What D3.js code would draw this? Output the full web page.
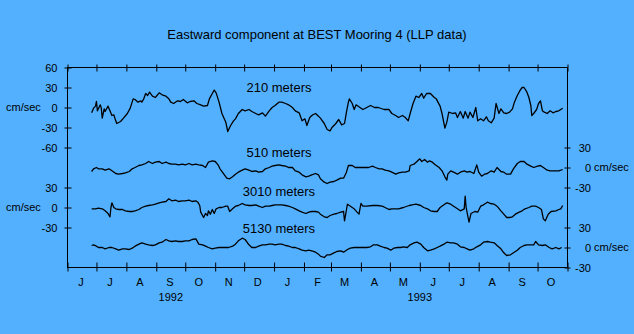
<!DOCTYPE html>
<html><head><meta charset="utf-8">
<script src="https://cdn.jsdelivr.net/npm/d3@7"></script>
<style>
html,body{margin:0;padding:0;background:#52b0ff;}
svg{display:block;font-family:"Liberation Sans",Arial,sans-serif;}
</style></head><body>
<svg id="c" width="634" height="334"></svg>
<script>
// ---------------- data ----------------
const titleText = "Eastward component at BEST Mooring 4 (LLP data)";
const startDate = "1992-06-01";
const endDate = "1993-11-01";
const monthLabels = ["J","J","A","S","O","N","D","J","F","M","A","M","J","J","A","S","O"];
const yearLabels = ["1992","1993"];
const yearDates = ["1992-09-16","1993-06-01"];
const seriesNames = ["210 meters","510 meters","3010 meters","5130 meters"];
const unitLabel = "cm/sec";
const ticks210 = [60,30,0,-30,-60];
const ticks510 = [30,0,-30];
const ticks3010 = [30,0,-30];
const ticks5130 = [30,0,-30];

// days since 1992-06-01, eastward velocity (cm/s)
const days210 = [
25,27,29,30,31,34,35,36,38,39,
42,44,46,48,50,51,55,58,62,65,
68,70,73,76,77,79,81,83,85,88,
91,95,98,102,105,107,110,114,117,120,
124,127,131,134,138,141,145,147,150,152,
154,157,160,164,166,169,172,174,177,181,
184,188,191,195,198,202,205,209,212,215,
219,222,226,229,233,236,240,243,246,248,
251,254,257,260,262,266,269,272,274,278,
281,284,287,289,291,292,295,297,299,303,
306,310,314,318,322,328,333,336,340,343,
347,350,353,355,358,361,364,367,369,372,
376,380,382,386,388,391,393,395,399,402,
404,407,410,412,415,417,420,423,425,428,
431,434,436,439,442,444,447,449,452,455,
458,461,463,466,469,471,473,476,478,480,
481,483,486,488,490,492,494,497,500,503,
506,509,513];
const vals210 = [
-8,-1,2,9,-5,4,-1,-16,-2,-6,
2,-5,-12,-11,-20,-24,-21,-16,-9,-1,
13,12,8,10,8,13,21,18,23,17,
15,22,19,17,13,8,6,10,9,12,
7,9,10,6,4,2,3,13,21,26,
22,8,-9,-22,-36,-27,-20,-17,-9,-3,
-5,-3,-6,-9,-11,-8,-13,-5,0,3,
8,8,6,4,0,-5,-8,-20,-17,-27,
-15,-11,-9,-13,-16,-24,-33,-35,-30,-24,
-18,-26,-24,-7,8,13,6,-3,4,0,
-3,0,3,0,0,-3,-3,-9,-12,-15,
-12,-15,-20,-9,6,17,15,21,14,21,
21,15,13,2,-9,-31,-22,-7,-9,-8,
-15,-6,-16,-6,-16,-7,-15,0,-20,-17,
-20,-14,-20,-23,-16,6,-9,-2,-8,-9,
-7,-2,8,18,26,30,30,23,15,3,
-12,-9,-3,6,10,-5,-7,-9,-5,-8,
-6,-5,-1];

const days510 = [
25,27,30,32,36,39,43,46,50,53,
57,60,64,67,70,74,77,81,84,88,
91,95,98,102,105,108,112,115,119,122,
126,129,133,136,140,143,146,150,153,156,
158,162,165,168,171,174,177,181,184,188,
191,195,198,202,205,209,212,215,219,222,
226,229,233,236,240,243,247,250,253,257,
260,
262,266,269,272,276,279,283,286,289,291,
295,298,302,305,309,312,316,319,323,326,
329,333,336,340,343,347,350,354,355,359,
362,365,367,370,373,375,378,381,385,388,
391,393,394,397,400,404,407,411,414,417,
421,424,426,429,432,435,439,442,445,449,
452,455,459,462,466,469,473,476,480,483,
487,490,493,497,500,506,509,513];
const vals510 = [
-6,-2,0,-2,-2,-4,-2,-5,-9,-10,
-9,-8,-6,-2,0,3,4,6,9,6,
8,9,6,8,6,5,5,4,5,4,
6,4,5,4,3,0,8,10,9,4,
-2,-10,-16,-17,-14,-10,-7,-4,-2,-4,
-6,-5,-7,-6,-2,0,2,3,4,3,
2,0,0,-5,-7,-11,-14,-13,-11,-9,
-11,
-17,-22,-24,-22,-21,-19,-16,-16,-7,3,
3,0,0,0,0,0,2,0,-2,-2,
-4,-5,-7,-10,-8,-7,-7,-5,3,5,
9,13,9,12,8,10,8,4,0,-5,
-14,-19,-10,-5,-7,-10,-7,-5,-7,-6,
-9,4,-7,-13,-10,-9,-5,-7,0,-6,
-7,-10,-10,-2,6,9,9,5,2,0,
2,3,0,-4,-5,-5,-5,-3];

const days3010 = [
25,29,32,36,39,42,44,45,46,48,
50,53,57,60,64,67,70,74,77,81,
84,88,91,95,98,102,105,108,112,115,
119,122,126,129,133,135,137,138,141,143,
145,146,148,150,152,154,157,160,164,166,
168,171,174,177,181,184,188,191,195,198,
202,205,209,212,215,219,222,226,229,233,
236,240,243,247,250,253,257,260,
262,266,269,272,276,279,283,286,287,288,
290,292,295,297,300,302,304,306,310,316,
321,326,329,333,336,340,343,348,354,357,
361,366,369,373,376,380,383,386,390,393,
397,400,404,407,411,412,413,415,416,418,
422,425,428,431,435,438,442,445,449,452,
455,458,461,464,468,471,474,478,481,485,
488,491,493,495,498,501,506,509,511,513];
const vals3010 = [
-2,-2,-1,-2,-5,-9,-14,0,7,0,
-2,-3,-3,-5,-6,-6,-5,-3,0,2,
3,4,5,7,8,9,13,10,11,9,
10,10,11,9,10,8,3,-7,-15,-9,
-12,-5,-10,-3,-9,-2,0,0,2,2,
-6,-2,2,3,6,4,3,3,4,2,
0,2,2,3,4,4,4,3,2,0,
-2,-5,-7,-9,-7,-6,-6,-7,
-10,-14,-15,-12,-10,-9,-7,-6,-20,-12,
5,3,0,-2,-7,-10,6,2,2,3,
3,2,0,-3,-2,-2,-2,0,3,4,
5,3,0,-2,-5,-6,-6,0,4,7,
5,2,-2,-5,-2,17,0,-15,-22,-9,
-6,-7,2,4,8,6,5,2,-5,-10,
-15,-15,-14,-10,-7,-5,-2,0,2,2,
0,-3,-17,-20,-10,-6,-5,-3,-2,3];

const days5130 = [
25,27,30,32,36,39,43,46,50,53,
57,60,64,67,70,74,77,81,84,88,
91,95,98,102,105,108,112,115,119,122,
126,129,133,136,140,143,146,150,153,157,
160,164,167,171,174,177,181,184,188,191,
195,198,202,205,209,212,215,219,222,226,
229,233,236,240,243,247,250,253,257,260,
262,266,269,272,276,279,283,286,
290,293,297,300,304,307,310,314,317,321,
324,328,331,335,338,342,345,348,352,355,
359,362,366,369,373,376,380,383,386,390,
393,397,400,404,407,411,414,417,421,424,
428,431,435,438,442,445,449,452,455,459,
462,466,469,473,476,480,483,485,488,492,
495,499,502,506,509,512];
const vals5130 = [
3,4,2,0,0,-2,0,0,-2,-4,
-2,-2,-3,-1,2,5,7,5,4,3,
4,7,8,12,10,9,10,9,9,10,
10,12,13,5,4,2,0,-2,-1,0,
0,0,0,2,5,10,14,12,4,0,
0,2,4,4,5,5,4,5,5,3,
2,0,0,-2,-4,-5,-4,-5,-7,-10,
-13,-15,-11,-11,-8,-6,-5,-7,
-3,-1,0,0,0,0,0,1,4,4,
2,0,-1,-4,-1,0,0,1,0,4,
7,8,5,0,-5,-4,-2,0,2,5,
8,7,7,5,1,0,-2,-4,-2,1,
4,8,9,8,7,3,-2,-8,-12,-11,
-8,-4,0,3,4,4,4,9,4,3,
4,0,-2,0,-2,0];

// ---------------- layout ----------------
const W = 634, H = 334;
const L = 67.5, R = 567.5, T = 67.5, B = 267.5;
const offsets = [0, -90, -150, -210];
const labelY = [92, 157, 196, 233];
const labelX = 279;

const svg = d3.select("#c");
const parse = d3.utcParse("%Y-%m-%d");
const t0 = parse(startDate), t1 = parse(endDate);
const x = d3.scaleUtc().domain([t0, t1]).range([L, R]);
const baseDomain = [-240, 60];
function yFor(i) {
  return d3.scaleLinear().domain(baseDomain.map(d => d - offsets[i])).range([B, T]);
}
const yScales = [0,1,2,3].map(yFor);

// title
svg.append("text").attr("x", 317).attr("y", 38.5).attr("text-anchor", "middle")
  .attr("font-size", 13).attr("fill", "#000").text(titleText);

// frame
svg.append("rect").attr("x", L).attr("y", T).attr("width", R - L).attr("height", B - T)
  .attr("fill", "none").attr("stroke", "#000").attr("stroke-width", 1);

// x axes (ticks at each month boundary, crossing the frame)
const months = d3.utcMonth.range(t0, d3.utcDay.offset(t1, 1));
const gB = svg.append("g").attr("transform", `translate(0,${B})`)
  .call(d3.axisBottom(x).tickValues(months).tickSize(4).tickSizeOuter(0).tickFormat(""));
gB.select(".domain").remove();
gB.selectAll(".tick line").attr("y1", -5).attr("y2", 4).attr("stroke", "#000");
const gT = svg.append("g").attr("transform", `translate(0,${T})`)
  .call(d3.axisTop(x).tickValues(months).tickSize(3).tickSizeOuter(0).tickFormat(""));
gT.select(".domain").remove();
gT.selectAll(".tick line").attr("y1", 4).attr("y2", -3).attr("stroke", "#000");

// month labels at mid-month
const labelMonths = d3.utcMonth.range(t0, t1);
svg.append("g").selectAll("text").data(labelMonths).join("text")
  .attr("x", d => x(d3.utcDay.offset(d, 14)))
  .attr("y", 286).attr("text-anchor", "middle").attr("font-size", 11)
  .text((d, i) => monthLabels[i]);
svg.append("g").selectAll("text").data(yearLabels).join("text")
  .attr("x", (d, i) => x(parse(yearDates[i])))
  .attr("y", 300.5).attr("text-anchor", "middle").attr("font-size", 11)
  .text(d => d);

// y axes
function leftAxis(scale, vals) {
  const g = svg.append("g").attr("transform", `translate(${L},0)`)
    .call(d3.axisLeft(scale).tickValues(vals).tickSize(3).tickPadding(7).tickFormat(d => String(d)));
  g.select(".domain").remove();
  g.selectAll(".tick line").attr("x1", 4).attr("x2", -3).attr("stroke", "#000");
  g.selectAll(".tick text").attr("font-size", 11).attr("font-family", "Liberation Sans, Arial, sans-serif").attr("fill", "#000");
  svg.append("text").attr("x", 6).attr("y", scale(0)).attr("dy", "0.32em")
    .attr("font-size", 11).text(unitLabel);
}
function rightAxis(scale, vals) {
  const g = svg.append("g").attr("transform", `translate(${R},0)`)
    .call(d3.axisRight(scale).tickValues(vals).tickSize(3).tickFormat(d => String(d)));
  g.select(".domain").remove();
  g.selectAll(".tick line").attr("x1", -3).attr("x2", 3).attr("stroke", "#000");
  g.selectAll(".tick text").attr("font-size", 11).attr("font-family", "Liberation Sans, Arial, sans-serif")
    .attr("fill", "#000").attr("text-anchor", "end").attr("x", 23.5);
  svg.append("text").attr("x", 594).attr("y", scale(0)).attr("dy", "0.32em")
    .attr("font-size", 11).text(unitLabel);
}
leftAxis(yScales[0], ticks210);
leftAxis(yScales[2], ticks3010);
rightAxis(yScales[1], ticks510);
rightAxis(yScales[3], ticks5130);

// series
const seriesDays = [days210, days510, days3010, days5130];
const seriesVals = [vals210, vals510, vals3010, vals5130];
seriesDays.forEach((days, i) => {
  const pts = days.map((d, j) => [d3.utcDay.offset(t0, d), seriesVals[i][j]]);
  const line = d3.line().x(p => x(p[0])).y(p => yScales[i](p[1]));
  svg.append("path").attr("d", line(pts)).attr("fill", "none")
    .attr("stroke", "#000").attr("stroke-width", 1.3).attr("stroke-linejoin", "round");
  svg.append("text").attr("x", labelX).attr("y", labelY[i]).attr("text-anchor", "middle")
    .attr("font-size", 13).text(seriesNames[i]);
});
</script>
</body></html>
